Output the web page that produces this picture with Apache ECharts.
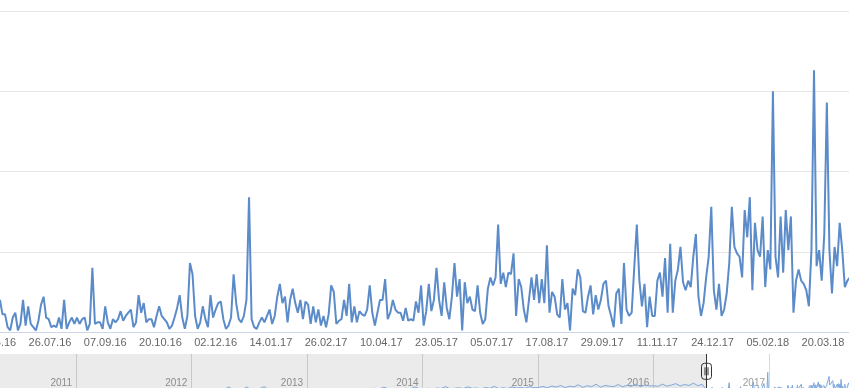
<!DOCTYPE html>
<html><head><meta charset="utf-8">
<script src="https://cdn.jsdelivr.net/npm/echarts@6/dist/echarts.min.js"></script>
<style>html,body{margin:0;padding:0;background:#fff;overflow:hidden;width:849px;height:388px}#c{width:909px;height:394px;margin-left:-60px}</style>
</head><body><div id="c"></div>
<script>
// ---- data ----
const mainStart = '2016-06-15';
const mainStepDays = 2;
const mainValues = [
12,
20,11,11,3,1,9,12,1,5,20,4,16,5,3,1,7,17,22,9,8,3,4,3,9,2,20,2,6,9,5,9,5,8,9,1,5,40,5,6,
6,2,16,6,2,8,6,8,13,7,10,12,14,3,6,23,12,18,6,8,8,3,10,16,10,8,6,2,4,9,15,23,9,2,10,43,36,10,2,
6,16,8,3,23,9,14,18,19,8,2,4,9,36,18,8,6,10,20,84,8,3,2,6,9,6,10,14,5,10,22,30,18,22,6,20,27,18,12,
20,8,19,17,5,16,6,14,4,10,3,11,29,25,5,7,8,20,10,30,6,16,6,13,11,10,14,29,12,4,12,20,20,33,8,12,20,14,12,
12,7,15,7,8,7,19,12,29,4,13,30,13,20,40,20,10,31,15,8,22,43,22,33,1,31,18,22,14,13,29,12,5,8,27,34,29,34,67,
30,37,28,37,36,49,10,33,28,14,6,20,34,20,36,18,33,18,54,12,25,22,11,9,33,14,18,1,27,23,39,34,13,12,22,29,11,23,14,
20,30,32,16,10,3,24,27,5,43,14,10,12,40,67,32,16,30,3,22,10,10,32,37,22,46,12,55,12,32,39,53,31,26,32,28,47,61,22,10,
18,34,47,78,26,14,30,10,14,24,43,78,53,49,47,34,76,59,84,26,68,51,47,72,28,51,39,150,47,34,72,37,76,51,72,12,32,39,32,30,
26,16,51,163,41,51,32,61,143,51,24,53,41,68,51,28,32,34
];
const histStart = '2010-05-01';
const histStepDays = 14;
const histValues = [
2,3,2,4,3,2,5,3,4,3,6,4,3,5,4,6,3,5,
4,6,5,3,7,5,6,4,8,5,7,6,5,8,6,7,9,5,8,6,7,9,6,8,7,10,
8,6,10,7,9,12,8,11,22,10,13,9,21,12,10,14,23,11,9,13,10,12,15,11,13,12,
11,13,10,14,12,11,15,12,13,15,12,14,11,15,13,16,12,21,14,15,13,14,16,13,22,15,
14,16,13,17,15,23,14,16,18,15,22,16,17,14,19,16,24,15,18,15,22,17,19,16,23,18,
19,24,18,26,21,28,19,25,22,31,20,27,23,33,21,28,25,23,32,22,29,24,34,23,30,26,
27,24,34,25,30,36,26,32,28,38,27,33
];
const tickLabels = ['13.06.16','26.07.16','07.09.16','20.10.16','02.12.16','14.01.17','26.02.17','10.04.17',
  '23.05.17','05.07.17','17.08.17','29.09.17','11.11.17','24.12.17','05.02.18','20.03.18'];
const navYearLabels = ['2011','2012','2013','2014','2015','2016','2017'];
const viewStart = '2016-06-17';

// ---- helpers ----
const DAY = 86400000;
function isoT(s, addDays) { const p = s.split('-').map(Number); return new Date(p[0], p[1]-1, p[2] + (addDays||0)).getTime(); }
function dmyT(s) { const p = s.split('.').map(Number); return new Date(2000+p[2], p[1]-1, p[0]).getTime(); }
function pad(n){ return (n<10?'0':'')+n; }

const mainData = mainValues.map((v,i)=>[isoT(mainStart, i*mainStepDays), v]);
const histData = histValues.map((v,i)=>[isoT(histStart, i*histStepDays), v]);
const navData = histData.concat(mainData);
const navMax = Math.max.apply(null, navData.map(d=>d[1]));
const tickTimes = tickLabels.map(dmyT);
const yearTimes = navYearLabels.map(y=>new Date(+y,0,1).getTime());
const viewStartT = isoT(viewStart);

// layout: the chart canvas is 60px wider on the left, shifted out of view
const OFF = 60;
const mainPxPerDay = 773/602;
const mainMin = tickTimes[1] - (50+OFF)/mainPxPerDay*DAY;
const mainMax = tickTimes[tickTimes.length-1] + 26/mainPxPerDay*DAY;
const navPxPerDay = 693/2192;
const navMin = yearTimes[0] - 76/navPxPerDay*DAY;
const navMax_t = yearTimes[yearTimes.length-1] + 80/navPxPerDay*DAY;

const FONT = "'Liberation Sans', Arial, sans-serif";
const chart = echarts.init(document.getElementById('c'), null, {renderer:'canvas'});
chart.setOption({
  animation: false,
  backgroundColor: '#ffffff',
  textStyle: {fontFamily: FONT},
  grid: [
    {left: 0, right: 0, top: 11, height: 321, containLabel: false},
    {left: OFF, right: 0, top: 354, height: 38, containLabel: false}
  ],
  xAxis: [
    {type:'value', gridIndex:0, min: mainMin, max: mainMax, scale:true,
     axisLine:{show:true, lineStyle:{color:'#ccd6eb', width:1}},
     axisTick:{show:false},
     splitLine:{show:false},
     axisLabel:{customValues: tickTimes, color:'#666666', fontSize:11, fontFamily: FONT, margin:5, hideOverlap:false,
       showMinLabel:true, showMaxLabel:true,
       formatter: v=>{const d=new Date(v); return pad(d.getDate())+'.'+pad(d.getMonth()+1)+'.'+String(d.getFullYear()).slice(2);}}
    },
    {type:'value', gridIndex:1, min: navMin, max: navMax_t, scale:true,
     axisLine:{show:false},
     axisTick:{show:false, customValues: yearTimes},
     splitLine:{show:true, lineStyle:{color:'#d9d9d9', width:1}},
     axisLabel:{customValues: yearTimes, inside:true, margin:4, color:'#999999', fontSize:10, fontFamily: FONT,
       align:'right', padding:[0,4,0,0], hideOverlap:false,
       formatter: v=>String(new Date(v).getFullYear())}
    }
  ],
  yAxis: [
    {type:'value', gridIndex:0, min:0, max:200, interval:50,
     axisLine:{show:false}, axisTick:{show:false}, axisLabel:{show:false},
     splitLine:{show:true, lineStyle:{color:'#e6e6e6', width:1}}},
    {type:'value', gridIndex:1, min:0, max: navMax, show:false, splitLine:{show:false}}
  ],
  series: [
    {type:'line', xAxisIndex:0, yAxisIndex:0, data: mainData, showSymbol:false, symbol:'none',
     lineStyle:{color:'#5b8bc9', width:2}, itemStyle:{color:'#5b8bc9'}, z:3, silent:true},
    {type:'line', xAxisIndex:1, yAxisIndex:1, data: navData, showSymbol:false, symbol:'none',
     lineStyle:{color:'#7fa8dc', width:1}, areaStyle:{color:'rgba(69,114,167,0.05)'}, silent:true,
     markArea:{silent:true, itemStyle:{color:'rgba(0,0,0,0.08)'}, data:[[{xAxis: navMin},{xAxis: viewStartT}]]},
     markLine:{silent:true, symbol:['none','none'], label:{show:false},
       lineStyle:{color:'#333333', width:1, type:'solid'}, data:[{xAxis: viewStartT}]}
    }
  ]
});

// navigator handle positioned through the navigator axes
const pTop = chart.convertToPixel({xAxisIndex:1, yAxisIndex:1}, [viewStartT, navMax]);
const pBot = chart.convertToPixel({xAxisIndex:1, yAxisIndex:1}, [viewStartT, 0]);
const hx = Math.round(pTop[0]) + 0.5;
const hy = pTop[1] + (pBot[1]-pTop[1]) * 0.455;
chart.setOption({
  graphic: [{
    type:'group', x: hx, y: hy, z: 100,
    children: [
      {type:'rect', shape:{x:-5, y:-8, width:10, height:16, r:3}, style:{fill:'#ffffff', stroke:'#333333', lineWidth:1}},
      {type:'line', shape:{x1:-1.5, y1:-4, x2:-1.5, y2:4}, style:{stroke:'#333333', lineWidth:1}},
      {type:'line', shape:{x1:1.5, y1:-4, x2:1.5, y2:4}, style:{stroke:'#333333', lineWidth:1}}
    ]
  }]
});
</script>
</body></html>
